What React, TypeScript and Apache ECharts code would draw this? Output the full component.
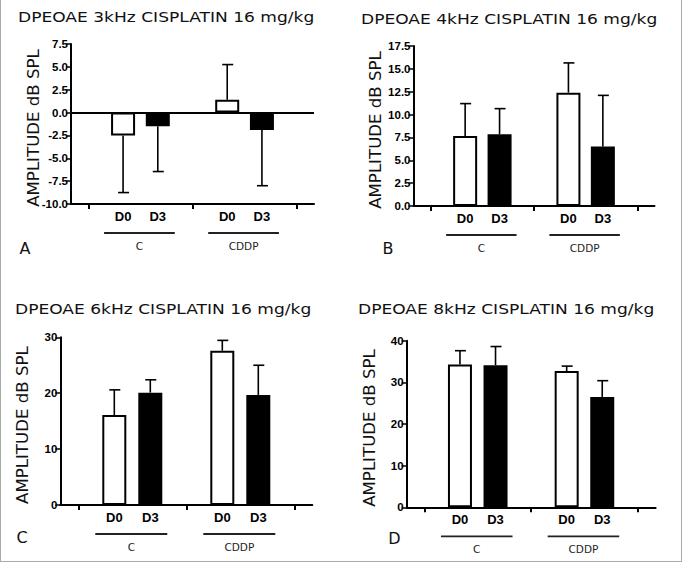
import React, { useEffect, useRef } from 'react';
import * as echarts from 'echarts';

// ---------- data ----------
const categories = ['', 'D0', 'D3', '', 'D0', 'D3', ''];
const groupLabels = ['C', 'CDDP'];
const panelLetters = ['A', 'B', 'C', 'D'];
const panelTitles = [
  'DPEOAE 3kHz CISPLATIN 16 mg/kg',
  'DPEOAE 4kHz CISPLATIN 16 mg/kg',
  'DPEOAE 6kHz CISPLATIN 16 mg/kg',
  'DPEOAE 8kHz CISPLATIN 16 mg/kg',
];
const yAxisTitle = 'AMPLITUDE dB SPL';

const means3k = [null, -2.5, -1.5, null, 1.4, -1.9, null];
const errEnd3k = [null, -8.75, -6.45, null, 5.25, -8.0, null];
const means4k = [null, 7.65, 7.85, null, 12.4, 6.5, null];
const errEnd4k = [null, 11.2, 10.65, null, 15.65, 12.1, null];
const means6k = [null, 16.1, 20.1, null, 27.6, 19.7, null];
const errEnd6k = [null, 20.6, 22.4, null, 29.45, 25.0, null];
const means8k = [null, 34.3, 34.1, null, 32.7, 26.5, null];
const errEnd8k = [null, 37.6, 38.6, null, 33.9, 30.4, null];

const yMins = [-10, 0, 0, 0];
const yMaxs = [7.5, 17.5, 30, 40];
const ySteps = [2.5, 2.5, 10, 10];
const yDecimals = [1, 1, 0, 0];

const allMeans = [means3k, means4k, means6k, means8k];
const allErrs = [errEnd3k, errEnd4k, errEnd6k, errEnd8k];

// ---------- layout ----------
const layout = [
  { left: 71, top: 44, width: 243, height: 160, titleX: 18, titleY: 17, yTitleX: 33.5, letterX: 25, letterY: 248 },
  { left: 413.5, top: 46, width: 241, height: 160, titleX: 361, titleY: 18.5, yTitleX: 375, letterX: 388, letterY: 248 },
  { left: 60.3, top: 337.3, width: 252, height: 167.7, titleX: 15, titleY: 309, yTitleX: 22, letterX: 22, letterY: 537 },
  { left: 406.6, top: 340.7, width: 249, height: 166.6, titleX: 358, titleY: 309, yTitleX: 369.5, letterX: 394.5, letterY: 538 },
];

const FONT_V = 'DejaVu Sans';
const FONT_A = 'Liberation Sans';
const INK = '#111';

export default function App() {
  const ref = useRef<HTMLDivElement>(null);

  useEffect(() => {
    if (!ref.current) return;
    const chart = echarts.init(ref.current, undefined, { renderer: 'svg' });

    const grids = layout.map((l) => ({ left: l.left, top: l.top, width: l.width, height: l.height, containLabel: false }));

    const xAxes = layout.map((_, i) => ({
      type: 'category',
      gridIndex: i,
      data: categories.map((_c, j) => String(j)),
      axisLine: { onZero: false, lineStyle: { color: '#000', width: 2 } },
      axisTick: {
        show: true,
        alignWithLabel: true,
        interval: (idx: number) => categories[idx] === '',
        length: 5,
        lineStyle: { color: '#000', width: 2 },
      },
      axisLabel: {
        interval: 0,
        formatter: (v: string) => categories[Number(v)],
        color: '#000',
        fontFamily: FONT_A,
        fontWeight: 'bold',
        fontSize: 13,
        margin: 6,
      },
      splitLine: { show: false },
    }));

    const yAxes = layout.map((_, i) => ({
      type: 'value',
      gridIndex: i,
      min: yMins[i],
      max: yMaxs[i],
      interval: ySteps[i],
      axisLine: { show: true, lineStyle: { color: '#000', width: 2 } },
      axisTick: { show: true, length: 5, lineStyle: { color: '#000', width: 1.5 } },
      axisLabel: {
        formatter: (v: number) => v.toFixed(yDecimals[i]),
        color: '#000',
        fontFamily: FONT_A,
        fontWeight: 'bold',
        fontSize: 11.5,
        margin: 3,
      },
      splitLine: { show: false },
    }));

    const series: any[] = [];
    allMeans.forEach((means, i) => {
      const bar: any = {
        type: 'bar',
        xAxisIndex: i,
        yAxisIndex: i,
        barWidth: 24,
        barGap: '-100%',
        data: means.map((v, j) =>
          v == null
            ? '-'
            : { value: v, itemStyle: { color: categories[j] === 'D0' ? '#fff' : '#000' } }
        ),
        itemStyle: { borderColor: '#000', borderWidth: 2 },
        z: 2,
      };
      if (yMins[i] < 0) {
        bar.markLine = {
          silent: true,
          symbol: 'none',
          label: { show: false },
          lineStyle: { color: '#000', width: 2, type: 'solid' },
          data: [{ yAxis: 0 }],
        };
      }
      series.push(bar);
      const errs = allErrs[i];
      series.push({
        type: 'custom',
        xAxisIndex: i,
        yAxisIndex: i,
        z: 3,
        data: means
          .map((m, j) => (m == null || errs[j] == null ? null : [j, m, errs[j]]))
          .filter((d) => d != null),
        renderItem: (_p: any, api: any) => {
          const x = api.value(0);
          const p0 = api.coord([x, api.value(1)]);
          const p1 = api.coord([x, api.value(2)]);
          const st = { stroke: '#000', lineWidth: 1.6 };
          return {
            type: 'group',
            children: [
              { type: 'line', shape: { x1: p0[0], y1: p0[1], x2: p1[0], y2: p1[1] }, style: st },
              { type: 'line', shape: { x1: p1[0] - 5, y1: p1[1], x2: p1[0] + 6, y2: p1[1] }, style: st },
            ],
          };
        },
      });
    });

    chart.setOption({
      animation: false,
      backgroundColor: '#fff',
      grid: grids,
      xAxis: xAxes,
      yAxis: yAxes,
      series,
    });

    // annotations positioned from the axes
    const graphics: any[] = [];
    layout.forEach((l, i) => {
      graphics.push({
        type: 'text',
        x: l.titleX,
        y: l.titleY,
        scaleX: 1.17,
        style: {
          text: panelTitles[i],
          fontFamily: FONT_V,
          fontSize: 14.6,
          fill: INK,
          align: 'left',
          verticalAlign: 'middle',
        },
      });
      graphics.push({
        type: 'text',
        x: l.yTitleX,
        y: l.top + l.height / 2 + 4,
        rotation: Math.PI / 2,
        style: {
          text: yAxisTitle,
          fontFamily: FONT_V,
          fontSize: 16.6,
          fill: INK,
          align: 'center',
          verticalAlign: 'middle',
        },
      });
      graphics.push({
        type: 'text',
        x: l.letterX,
        y: l.letterY,
        style: {
          text: panelLetters[i],
          fontFamily: FONT_V,
          fontSize: 16,
          fill: INK,
          align: 'center',
          verticalAlign: 'middle',
        },
      });
      const bottom = l.top + l.height;
      const lineY = bottom + 29;
      [
        [1, 2],
        [4, 5],
      ].forEach(([a, b], g) => {
        const xa = chart.convertToPixel({ xAxisIndex: i } as any, a) as unknown as number;
        const xb = chart.convertToPixel({ xAxisIndex: i } as any, b) as unknown as number;
        graphics.push({
          type: 'line',
          shape: { x1: xa - 19, y1: lineY, x2: xb + 17, y2: lineY },
          style: { stroke: '#222', lineWidth: 1.8 },
        });
        graphics.push({
          type: 'text',
          x: (xa + xb) / 2 - 1,
          y: lineY + 12.5,
          style: {
            text: groupLabels[g],
            fontFamily: FONT_V,
            fontSize: 10.5,
            fill: '#222',
            align: 'center',
            verticalAlign: 'middle',
          },
        });
      });
    });
    // frame
    const frame = { stroke: '#aaa', lineWidth: 1 };
    graphics.push({ type: 'line', shape: { x1: 0.5, y1: 0, x2: 0.5, y2: 562 }, style: frame });
    graphics.push({ type: 'line', shape: { x1: 681.5, y1: 0, x2: 681.5, y2: 562 }, style: frame });
    graphics.push({ type: 'line', shape: { x1: 0, y1: 561.5, x2: 682, y2: 561.5 }, style: frame });

    chart.setOption({ graphic: graphics });

    return () => chart.dispose();
  }, []);

  return (
    <div
      ref={ref}
      style={{ position: 'fixed', left: 0, top: 0, width: 682, height: 563, background: '#fff' }}
    />
  );
}
